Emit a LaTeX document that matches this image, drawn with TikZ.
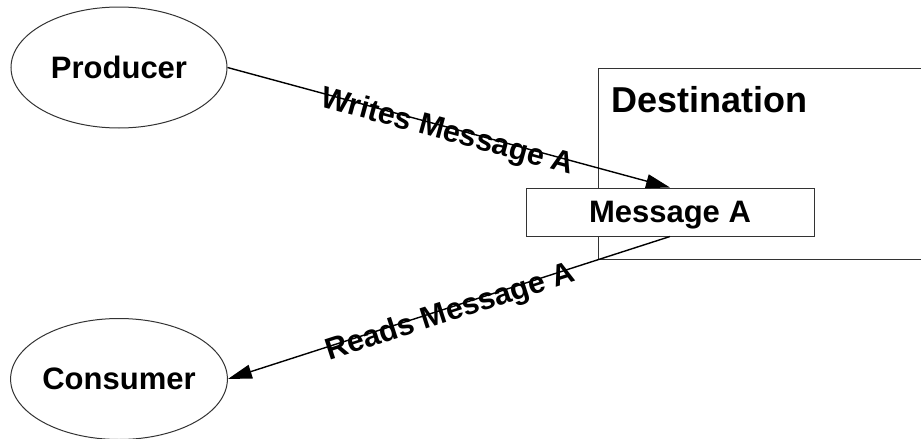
\documentclass[tikz,border=0pt]{standalone}
\usepackage{fontspec}
\setmainfont{Liberation Sans}
\usetikzlibrary{shapes.geometric,arrows.meta}
\begin{document}
\begin{tikzpicture}[x=1pt,y=-1pt,
  shapeline/.style={draw=black!80,line width=1pt},
  actor/.style={shapeline,ellipse,minimum width=216pt,minimum height=121pt,inner sep=0pt,
    font=\fontsize{31}{37}\selectfont\bfseries},
  msgbox/.style={shapeline,fill=white,rectangle,minimum width=288pt,minimum height=48pt,inner sep=0pt,
    text depth=0pt,font=\fontsize{31}{37}\selectfont\bfseries},
  flow/.style={draw=black,line width=1.4pt,-{Triangle[length=24pt,width=14pt]}},
  flowlabel/.style={sloped,pos=0.5,inner sep=0pt,text height=27pt,text depth=0pt,
    font=\fontsize{30.5}{36}\selectfont\bfseries}
]
\useasboundingbox (0,0) rectangle (921,439);
% Destination frame (extends past right edge)
\coordinate (dtr) at (940,68);
\coordinate (dtl) at (598,68);
\coordinate (dbl) at (598,259);
\coordinate (dbr) at (940,259);
\draw[shapeline] (dtr) -- (dtl) -- (dbl) -- (dbr);
\node[anchor=base west,inner sep=0pt,font=\fontsize{36}{43}\selectfont\bfseries] (destlabel) at (611,112) {Destination};
% Nodes
\node[actor] (producer) at (119,67.5) {Producer};
\node[actor] (consumer) at (119,379) {Consumer};
\node[msgbox] (msg) at (670,212) {Message A};
% Connectors
\draw[flow] (producer.east) -- node[flowlabel] (wlabel) {Writes Message A} (msg.north);
\draw[flow] (msg.south) -- node[flowlabel] (rlabel) {Reads Message A} (consumer.east);
\end{tikzpicture}
\end{document}
